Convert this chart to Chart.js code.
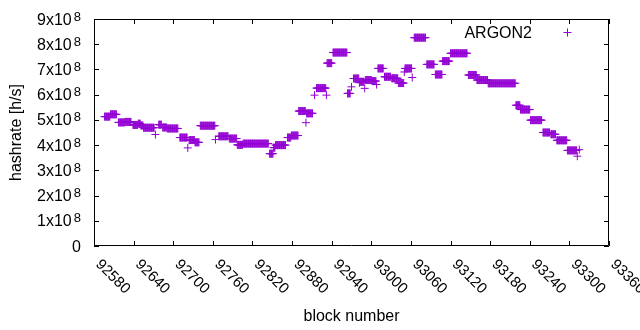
<!DOCTYPE html>
<html>
<head>
<meta charset="utf-8">
<title>ARGON2 hashrate</title>
<script src="https://cdn.jsdelivr.net/npm/chart.js@4.4.1/dist/chart.umd.min.js"></script>
<style>
  html, body { margin: 0; padding: 0; background: #fff; }
  canvas { display: block; }
</style>
</head>
<body>
<canvas id="chart" width="640" height="330"></canvas>
<script>
// Runs of consecutive blocks that share the same hashrate (in units of 1e8 h/s)
const runStart = [
  92596, 92605, 92617, 92627, 92639, 92647, 92651, 92655, 92673, 92678,
  92684, 92691, 92710, 92722, 92724, 92733, 92741, 92764, 92769, 92785,
  92797, 92806, 92846, 92852, 92855, 92873, 92879, 92890, 92901, 92902,
  92914, 92917, 92932, 92933, 92942, 92964, 92970, 92973, 92982, 92983,
  92990, 92991, 93001, 93008, 93010, 93020, 93031, 93041, 93050, 93051,
  93062, 93065, 93084, 93097, 93108, 93120, 93147, 93160, 93177, 93219,
  93226, 93241, 93260, 93272, 93281, 93297, 93312, 93315
];
const runEnd = [
  92604, 92614, 92626, 92636, 92646, 92650, 92654, 92671, 92673, 92682,
  92690, 92707, 92721, 92722, 92732, 92739, 92763, 92764, 92783, 92796,
  92805, 92844, 92851, 92854, 92870, 92878, 92889, 92900, 92901, 92911,
  92914, 92931, 92932, 92940, 92963, 92968, 92970, 92981, 92982, 92989,
  92990, 93000, 93007, 93008, 93018, 93029, 93040, 93049, 93050, 93061,
  93062, 93082, 93095, 93107, 93118, 93145, 93159, 93176, 93218, 93225,
  93240, 93258, 93270, 93279, 93296, 93311, 93312, 93315
];
const runRate = [
  5.13, 5.22, 4.90, 4.92, 4.80, 4.85, 4.78, 4.69, 4.42, 4.81,
  4.70, 4.66, 4.30, 3.89, 4.20, 4.11, 4.77, 4.22, 4.35, 4.26,
  4.01, 4.06, 3.66, 3.90, 4.00, 4.30, 4.38, 5.35, 4.89, 5.26,
  5.98, 6.26, 5.98, 7.25, 7.67, 6.05, 6.31, 6.64, 6.47, 6.51,
  6.25, 6.58, 6.54, 6.40, 7.04, 6.71, 6.65, 6.46, 6.90, 7.04,
  6.68, 8.26, 7.20, 6.80, 7.33, 7.64, 6.78, 6.58, 6.45, 5.58,
  5.41, 4.99, 4.50, 4.43, 4.19, 3.79, 3.56, 3.82
];

const xTicks = [92580, 92640, 92700, 92760, 92820, 92880, 92940, 93000, 93060, 93120, 93180, 93240, 93300, 93360];
const yTicks = [0, 1, 2, 3, 4, 5, 6, 7, 8, 9];   // mantissa of n x 10^8

const seriesName = 'ARGON2';
const purple = '#9400d3';
const font = '"Liberation Sans", Arial, sans-serif';

// one point per block inside each run
const points = [];
runStart.forEach((s, i) => {
  for (let b = s; b <= runEnd[i]; b++) {
    points.push({ x: b, y: runRate[i] * 1e8 });
  }
});

// gnuplot-like frame, ticks and labels
const gnuplotFrame = {
  id: 'gnuplotFrame',
  afterDraw(chart) {
    const ctx = chart.ctx;
    const { left, right, top, bottom } = chart.chartArea;
    const xs = chart.scales.x, ys = chart.scales.y;
    const tick = 5;

    ctx.save();
    ctx.strokeStyle = '#000';
    ctx.lineWidth = 1;
    ctx.beginPath();
    ctx.rect(left + 0.5, top + 0.5, right - left - 1, bottom - top - 1);

    xTicks.forEach(v => {
      const px = Math.round(xs.getPixelForValue(v)) + 0.5;
      ctx.moveTo(px, bottom); ctx.lineTo(px, bottom - tick);
      ctx.moveTo(px, top); ctx.lineTo(px, top + tick);
    });
    yTicks.forEach(v => {
      const py = Math.round(ys.getPixelForValue(v * 1e8)) + 0.5;
      ctx.moveTo(left, py); ctx.lineTo(left + tick, py);
      ctx.moveTo(right, py); ctx.lineTo(right - tick, py);
    });
    ctx.stroke();

    ctx.fillStyle = '#000';

    // y tick labels with superscript exponent
    yTicks.forEach(v => {
      const py = ys.getPixelForValue(v * 1e8);
      ctx.textBaseline = 'alphabetic';
      ctx.textAlign = 'right';
      if (v === 0) {
        ctx.font = '16px ' + font;
        ctx.fillText('0', 81, py + 5.5);
        return;
      }
      ctx.font = '13px ' + font;
      ctx.fillText('8', 81, py + 1.5);
      const supW = ctx.measureText('8').width;
      ctx.font = '16px ' + font;
      ctx.fillText(v + 'x10', 79 - supW, py + 5.5);
    });

    // x tick labels, rotated down to the right
    ctx.font = '15px ' + font;
    ctx.textAlign = 'left';
    ctx.textBaseline = 'middle';
    xTicks.forEach(v => {
      const px = xs.getPixelForValue(v);
      ctx.save();
      ctx.translate(px + 4, bottom + 16);
      ctx.rotate(Math.PI / 4);
      ctx.fillText(String(v), 0, 0);
      ctx.restore();
    });

    // axis titles
    ctx.font = '16px ' + font;
    ctx.textAlign = 'center';
    ctx.textBaseline = 'alphabetic';
    ctx.fillText('block number', (left + right) / 2, 321);

    ctx.save();
    ctx.translate(17, (top + bottom) / 2);
    ctx.rotate(-Math.PI / 2);
    ctx.textBaseline = 'middle';
    ctx.fillText('hashrate [h/s]', 0, 0);
    ctx.restore();

    // key
    ctx.textAlign = 'right';
    ctx.fillText(seriesName, 532, 37.5);
    ctx.strokeStyle = purple;
    ctx.beginPath();
    ctx.moveTo(563.5, 32.5); ctx.lineTo(571.5, 32.5);
    ctx.moveTo(567.5, 28.5); ctx.lineTo(567.5, 36.5);
    ctx.stroke();

    ctx.restore();
  }
};

new Chart(document.getElementById('chart'), {
  type: 'scatter',
  data: {
    datasets: [{
      label: seriesName,
      data: points,
      pointStyle: 'cross',
      pointRadius: 4,
      pointBorderWidth: 1,
      borderColor: purple,
      backgroundColor: purple
    }]
  },
  options: {
    responsive: false,
    animation: false,
    events: [],
    devicePixelRatio: 1,
    layout: { padding: { left: 94, right: 31, top: 19, bottom: 84 } },
    plugins: {
      legend: { display: false },
      tooltip: { enabled: false }
    },
    scales: {
      x: { type: 'linear', min: 92580, max: 93360, display: false },
      y: { type: 'linear', min: 0, max: 9e8, display: false }
    }
  },
  plugins: [gnuplotFrame]
});
</script>
</body>
</html>
